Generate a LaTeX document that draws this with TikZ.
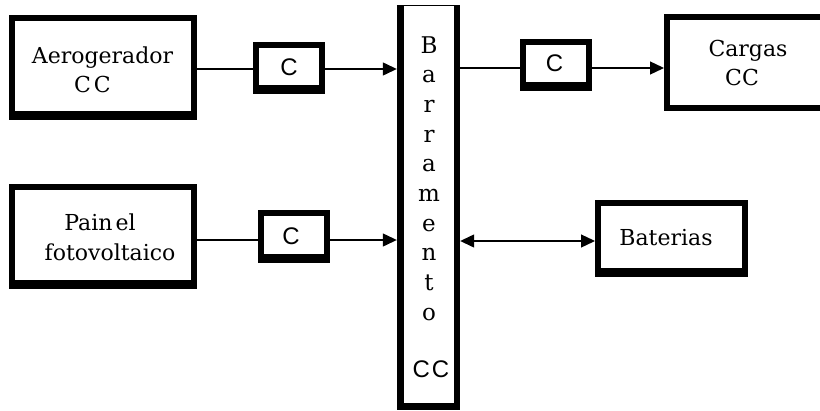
\documentclass[tikz,border=0pt]{standalone}
\usepackage{fontspec}
\setmainfont{DejaVu Serif}
\newfontfamily\sansf{Liberation Sans}
\usetikzlibrary{arrows.meta}
\begin{document}
\begin{tikzpicture}[x=1pt,y=-1pt,
  box/.style={draw, line width=6pt, fill=white, inner sep=0pt},
  conn/.style={line width=1.3pt},
  tip/.style={-{Triangle[length=14pt,width=13pt]}},
  lab/.style={inner sep=0pt, anchor=base, font=\fontsize{22}{26}\selectfont},
  clab/.style={inner sep=0pt, anchor=base, font=\sansf\fontsize{24}{28}\selectfont},
  buslab/.style={inner sep=0pt, anchor=base, font=\fontsize{23}{27}\selectfont}]
\useasboundingbox (0,0) rectangle (820,410);
\clip (0,0) rectangle (820,410);
\fill[white] (0,0) rectangle (820,410);

% boxes
\node[box, minimum width=182pt, minimum height=99pt] (aero) at (103,67) {};
\node[box, minimum width=66pt, minimum height=46pt] (c1) at (289,68) {};
\node[box, minimum width=66pt, minimum height=46pt] (c2) at (556,65) {};
\node[box, minimum width=66pt, minimum height=47pt] (c3) at (294,236.5) {};
\node[box, minimum width=170pt, minimum height=91pt] (cargas) at (752,62.5) {};
\node[box, minimum width=182pt, minimum height=99pt] (painel) at (103,236.5) {};
\node[box, minimum width=147pt, minimum height=71pt] (bat) at (671.5,238.5) {};
\foreach \n in {aero,c1,c2,c3,painel,bat}
  \fill (\n.south west) rectangle ([yshift=9pt]\n.south east);

% bus
\node[fill=white, inner sep=0pt, minimum width=63pt, minimum height=404pt] (bus) at (428.5,208) {};
\draw[line width=1pt] (bus.north west) -- (bus.north east);
\fill (bus.north west) rectangle ([xshift=7pt]bus.south west);
\fill ([xshift=-6pt]bus.north east) rectangle (bus.south east);
\fill ([yshift=7pt]bus.south west) rectangle (bus.south east);

% texts
\node[lab] (t1) at (102.5,63) {Aerogerador};
\node[lab] (t2) at (92.5,92) {C\kern3pt C};
\node[lab] (t3) at (748,56) {Cargas};
\node[lab] (t4) at (742,85) {CC};
\node[lab] (t5) at (100,230) {Pain\kern3pt el};
\node[lab] (t6) at (110,260) {fotovoltaico};
\node[lab] (t7) at (666,245) {Baterias};
\node[clab] (tc1) at (289,75) {C};
\node[clab] (tc2) at (554.5,71) {C};
\node[clab] (tc3) at (291,244) {C};
\foreach \l [count=\i] in {B,a,r,r,a,m,e,n,t,o}
  \node[buslab] (bl\i) at (429,{53+(\i-1)*29.7}) {\l};
\node[clab] (tbus) at (431,377) {C\kern2pt C};

% connectors
\coordinate (r1) at (0,69);
\coordinate (r1b) at (0,68);
\coordinate (r2) at (0,240);
\coordinate (r3) at (0,241);
\draw[conn] (aero.east |- r1) -- (c1.west |- r1);
\draw[conn,tip] (c1.east |- r1) -- (bus.west |- r1);
\draw[conn] (bus.east |- r1b) -- (c2.west |- r1b);
\draw[conn,tip] (c2.east |- r1b) -- (cargas.west |- r1b);
\draw[conn] (painel.east |- r2) -- (c3.west |- r2);
\draw[conn,tip] (c3.east |- r2) -- (bus.west |- r2);
\draw[conn,{Triangle[length=14pt,width=13pt]}-{Triangle[length=14pt,width=13pt]}] (bus.east |- r3) -- (bat.west |- r3);
\end{tikzpicture}
\end{document}
